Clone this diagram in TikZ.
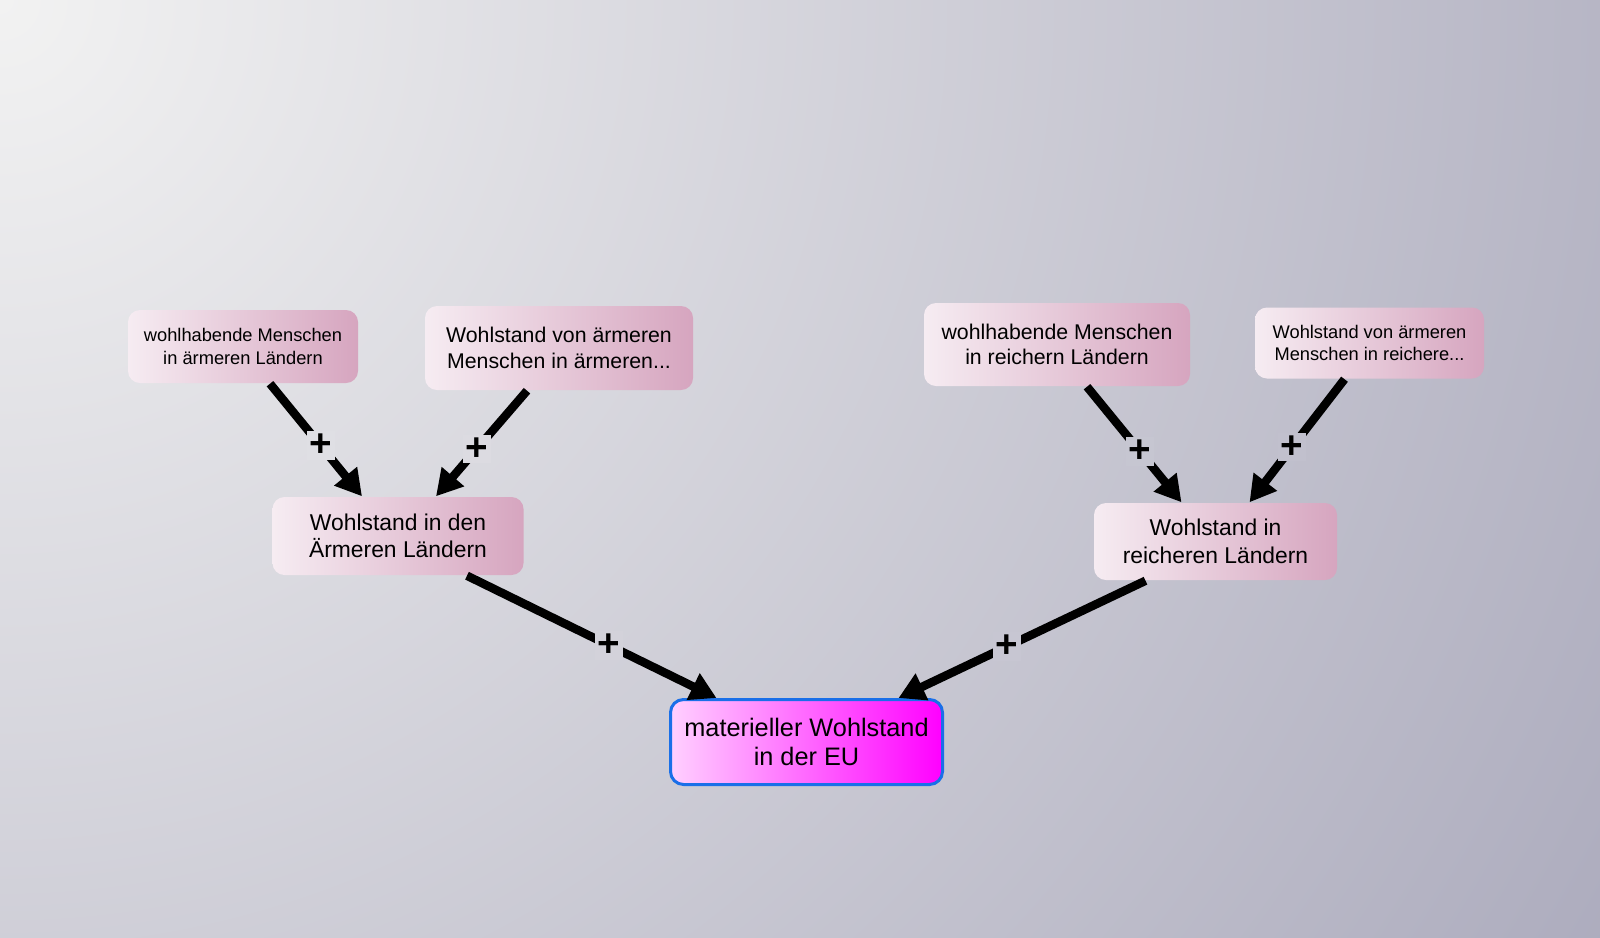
\documentclass[tikz,border=0pt]{standalone}
\usepackage{fontspec}
\setmainfont{Liberation Sans}
\usepackage{tikz}
\usetikzlibrary{arrows.meta,positioning,calc}
\usepackage{xcolor}
\definecolor{bgin}{RGB}{242,242,242}
\definecolor{bgout}{RGB}{168,167,186}
\definecolor{rosaL}{RGB}{246,236,242}
\definecolor{rosaR}{RGB}{214,165,191}
\definecolor{magL}{RGB}{255,208,255}
\definecolor{magR}{RGB}{255,0,255}
\definecolor{rand}{RGB}{26,111,232}

\begin{document}
\begin{tikzpicture}[
  factor/.style={rounded corners=0.12cm,left color=rosaL,right color=rosaR,
                 align=center,inner sep=0pt},
  ziel/.style={rounded corners=0.13cm,left color=magL,right color=magR,
               draw=rand,line width=0.03cm,align=center,inner sep=0pt,
               minimum width=2.72cm,minimum height=0.85cm,
               font=\fontsize{7.2}{8.5}\selectfont},
  link/.style={line width=0.085cm,-{Triangle[length=0.26cm,width=0.28cm]}},
  sign/.style={fill=bgin!#1!bgout,inner sep=0.8pt,
               font=\bfseries\fontsize{11}{11}\selectfont}]
% background
\useasboundingbox (0,0) rectangle (16,9.37);
\begin{scope}
\clip (0,0) rectangle (16,9.37);
\shade[inner color=bgin,outer color=bgout] (0,9.37) circle (20cm);
\end{scope}
% left branch
\node[factor,minimum width=2.30cm,minimum height=0.73cm,font=\fontsize{5.2}{6.3}\selectfont]
  (armReich) at (2.43,5.905) {wohlhabende Menschen\\in ärmeren Ländern};
\node[factor,minimum width=2.68cm,minimum height=0.84cm,font=\fontsize{6.06}{7.3}\selectfont]
  (armArm) at (5.59,5.89) {Wohlstand von ärmeren\\Menschen in ärmeren...};
\node[factor,minimum width=2.51cm,minimum height=0.78cm,font=\fontsize{6.5}{7.8}\selectfont]
  (arm) at (3.98,4.01) {Wohlstand in den\\Ärmeren Ländern};
% right branch
\node[factor,minimum width=2.66cm,minimum height=0.83cm,font=\fontsize{6.06}{7.3}\selectfont]
  (reichReich) at (10.57,5.925) {wohlhabende Menschen\\in reichern Ländern};
\node[factor,minimum width=2.29cm,minimum height=0.71cm,font=\fontsize{5.2}{6.3}\selectfont]
  (reichArm) at (13.695,5.94) {Wohlstand von ärmeren\\Menschen in reichere...};
\node[factor,minimum width=2.43cm,minimum height=0.77cm,font=\fontsize{6.5}{7.8}\selectfont]
  (reich) at (12.155,3.955) {Wohlstand in\\reicheren Ländern};
% goal
\node[ziel] (eu) at (8.065,1.95) {materieller Wohlstand\\in der EU};
% links
\draw[link] ([xshift=2.7mm]armReich.south) -- node[pos=0.55,sign=75]{+} ([xshift=-3.6mm]arm.north);
\draw[link] ([xshift=-3.2mm]armArm.south) -- node[pos=0.55,sign=70]{+} ([xshift=3.8mm]arm.north);
\draw[link] ([xshift=6.9mm]arm.south) -- node[pos=0.57,sign=58]{+} ([xshift=-9.0mm]eu.north);
\draw[link] ([xshift=3.0mm]reichReich.south) -- node[pos=0.56,sign=41]{+} ([xshift=-3.4mm]reich.north);
\draw[link] ([xshift=-2.5mm]reichArm.south) -- node[pos=0.55,sign=34]{+} ([xshift=3.4mm]reich.north);
\draw[link] ([xshift=-7.0mm]reich.south) -- node[pos=0.56,sign=42]{+} ([xshift=9.2mm]eu.north);
\end{tikzpicture}
\end{document}
